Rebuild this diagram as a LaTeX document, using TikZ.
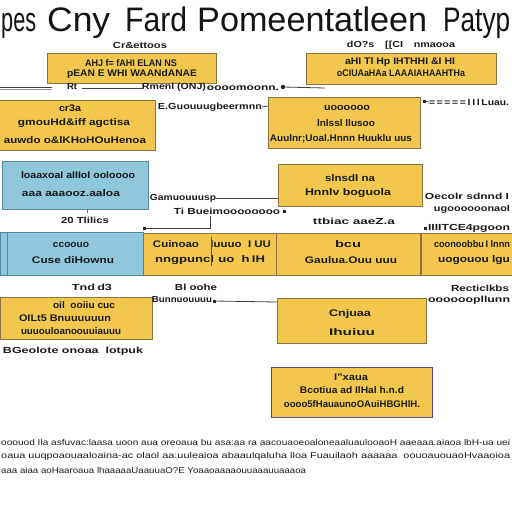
\documentclass[tikz,border=0pt]{standalone}
\usepackage{fontspec}
\setmainfont{Liberation Sans}
\usetikzlibrary{shadows}
\definecolor{yfill}{HTML}{F3C74E}
\definecolor{yedge}{HTML}{8A7440}
\definecolor{bfill}{HTML}{8EC8DA}
\definecolor{bedge}{HTML}{55889C}
\definecolor{txt}{HTML}{1A1A1A}
\definecolor{para}{HTML}{1E1E1E}
\newcommand\tw[2]{\resizebox{#1pt}{\height}{#2}}
\begin{document}
\begin{tikzpicture}[x=1pt,y=-1pt,
  ybox/.style={draw=yedge, fill=yfill, line width=0.7pt, inner sep=0pt,
    drop shadow={shadow xshift=1pt, shadow yshift=-1.2pt, opacity=0.35}},
  bbox/.style={draw=bedge, fill=bfill, line width=0.7pt, inner sep=0pt,
    drop shadow={shadow xshift=1pt, shadow yshift=-1.2pt, opacity=0.35}},
  lt/.style={font=\bfseries\fontsize{9.6}{9.6}\selectfont, text=txt, inner sep=0pt},
  lbl/.style={font=\bfseries\fontsize{8.8}{8.8}\selectfont, text=txt, inner sep=0pt},
  pt/.style={font=\fontsize{8.4}{8.4}\selectfont, text=para, inner sep=0pt, anchor=west},
  ttl/.style={font=\fontsize{34}{34}\selectfont, text=black!92, inner sep=0pt, anchor=base west},
  conn/.style={draw=black!75, line width=0.8pt},
  sq/.style={fill=black!85, minimum size=3pt, inner sep=0pt}]
\useasboundingbox (0,0) rectangle (512,512);
\fill[white] (0,0) rectangle (512,512);

% title
\node[ttl] (t1) at (1,31) {\tw{35}{pes}};
\node[ttl] (t2) at (47,31) {\tw{63}{Cny}};
\node[ttl] (t3) at (125,31) {\tw{62}{Fard}};
\node[ttl] (t4) at (197,31) {\tw{230}{Pomeentatleen}};
\node[ttl] (t5) at (443,31) {\tw{67}{Patyp}};

% row 1
\node[lbl] (Alab) at (140,45) {\tw{54}{Cr\&ettoos}};
\node[ybox, minimum width=169pt, minimum height=30pt] (A) at (131.5,68) {};
\node[lt] (A1) at (131,63) {\tw{92}{AHJ f= fAHI ELAN NS}};
\node[lt] (A2) at (132,74) {\tw{130}{pEAN E WHI WAANdANAE}};

\node[lbl] (Blab) at (401,45) {\tw{108}{dO?s\quad [[CI\quad nmaooa}};
\node[ybox, minimum width=190pt, minimum height=31pt] (B) at (401,68.5) {};
\node[lt] (B1) at (400,62) {\tw{110}{aHI Tl Hp IHTHHI \&I HI}};
\node[lt] (B2) at (401,73) {\tw{128}{oCIUAaHAa LAAAIAHAAHTHa}};

% line under row 1
\draw[conn] (0,87.5) -- (52,87.5);
\draw[draw=black!40, line width=0.6pt] (0,89.5) -- (52,89.5);
\node[lbl] (r1) at (72,87) {\tw{10}{Rt}};
\draw[conn] (82,88) -- (142,88);
\node[lbl] (r2) at (174,87) {\tw{64}{Rmenl (ONJ)}};
\node[lbl] (r3) at (243,87) {\tw{72}{\vphantom{O}oooomoonn.}};
\node[circle, fill=black!85, minimum size=4.5pt, inner sep=0pt] (r4) at (283,87) {};
\draw[conn] (r4) -- (325,88);

% row 2
\node[ybox, minimum width=156pt, minimum height=50pt] (C) at (77,125) {};
\node[lt] (C1) at (70,108) {\tw{22}{cr3a}};
\node[lt] (C2) at (74,123) {\tw{112}{gmouHd\&iff agctisa}};
\node[lt] (C3) at (75,140) {\tw{142}{auwdo o\&lKHoHOuHenoa}};

\node[lbl] (Clink) at (210,107) {\tw{104}{E.Guouuugbeermnn}};
\draw[conn] (Clink.east) -- (268,106);

\node[ybox, minimum width=152pt, minimum height=51pt] (D) at (344,122.5) {};
\node[lt] (D1) at (347,108) {\tw{46}{uoooooo}};
\node[lt] (D2) at (346,123) {\tw{58}{lnlssl llusoo}};
\node[lt] (D3) at (341,139) {\tw{142}{Auulnr;Uoal.Hnnn Huuklu uus}};

\node[sq] (Dsq) at (424,101) {};
\node[lbl] (Dr) at (469,102) {\tw{80}{\vphantom{l}=\,=\,=\,=\,=\,I\,I\,l\,Luau.}};
\draw[conn] (Dsq) -- (Dr.west);

% row 3
\node[bbox, minimum width=146pt, minimum height=48pt] (E) at (75,185) {};
\node[lt] (E1) at (78,175) {\tw{114}{loaaxoaI aIIIoI ooIoooo}};
\node[lt] (E2) at (71,193) {\tw{98}{aaa aaaooz.aaloa}};
\draw[draw=black!60, line width=0.5pt] (87,209) -- (87,213);

\node[lbl] (Elink) at (183,198) {\tw{66}{Gamuouuusp}};
\node[ybox, minimum width=144pt, minimum height=42pt] (F) at (350,185) {};
\draw[conn] (Elink.east) -- (F.west |- 0,198);
\node[lbl] (Fb) at (227,211) {\tw{106}{Ti Bueimoooooooo}};
\node[sq] (Fsq) at (284,211) {};
\node[lt] (F1) at (350,178) {\tw{50}{slnsdl na}};
\node[lt] (F2) at (348,193) {\tw{86}{Hnnlv boguola}};

\node[lbl] (Fr1) at (467,196) {\tw{84}{Oecolr sdnnd I}};
\node[lbl] (Fr2) at (472,209) {\tw{76}{ugoooooonaoI}};

% row 4 labels
\node[lbl] (Glab) at (85,220) {\tw{48}{20 Tlilics}};
\node[lbl] (Ilab) at (354,221) {\tw{82}{ttbiac aaeZ.a}};
\node[sq] (Jsq) at (425,228) {};
\node[lbl] (Jlab) at (469,228) {\tw{82}{IIIITCE4pgoon}};

% row 4
\node[bbox, minimum width=143pt, minimum height=43pt] (G) at (71.5,253.5) {};
\draw[draw=bedge, line width=0.6pt] (7,232) -- (7,275);
\node[lt] (G1) at (71,245) {\tw{36}{ccoouo}};
\node[lt] (G2) at (73,260) {\tw{82}{Cuse diHownu}};

\node[ybox, minimum width=133pt, minimum height=42pt] (H) at (209.5,254) {};
\node[lt] (H1) at (212,244) {\tw{118}{Cuinoao\quad luuuo\ \ I UU}};
\node[lt] (H2) at (210,260) {\tw{110}{nngpuncl\,\,uo\ \ h\,IH}};
\draw[draw=black!70, line width=0.5pt] (211,237) -- (211,266);
\node[sq] (Hsq) at (144,228) {};
\draw[conn] (Hsq) -- (210,228) -- (210,216);

\node[ybox, minimum width=144pt, minimum height=42pt] (I) at (348,254) {};
\node[lt] (I1) at (348,244) {\tw{26}{bcu}};
\node[lt] (I2) at (351,260) {\tw{92}{Gaulua.Ouu uuu}};

\node[ybox, minimum width=100pt, minimum height=42pt] (J) at (471,254) {};
\node[lt] (J1) at (472,244) {\tw{76}{coonoobbu\,I lnnn}};
\node[lt] (J2) at (474,260) {\tw{72}{uogouou lgu}};

% row 5
\node[lbl] (Klab) at (92,287) {\tw{40}{Tnd\,d3}};
\node[ybox, minimum width=152pt, minimum height=42pt] (K) at (76,318) {};
\node[lt] (K1) at (84,305) {\tw{62}{oil\ \ ooiiu cuc}};
\node[lt] (K2) at (65,318) {\tw{92}{OILt5 Bnuuuuuun}};
\node[lt] (K3) at (71,331) {\tw{100}{uuuouloanoouuiauuu}};
\node[lbl] (Kb) at (73,351) {\tw{140}{BGeolote onoaa\ \ lotpuk}};

\node[lbl] (Llab) at (196,287) {\tw{42}{Bl oohe}};
\node[lbl] (Llink) at (182,300) {\tw{60}{Bunnuouuuu}};
\node[sq] (Lsq) at (214,301) {};
\node[ybox, minimum width=149pt, minimum height=45pt] (L) at (351.5,320.5) {};
\draw[conn] (Lsq) -- (L.west |- 0,302);
\node[lt] (L1) at (350,314) {\tw{42}{Cnjuaa}};
\node[lt] (L2) at (352,332) {\tw{46}{Ihuiuu}};

\node[lbl] (Lr1) at (480,288) {\tw{58}{Recticlkbs}};
\node[lbl] (Lr2) at (469,300) {\tw{82}{oooooopllunn}};

% row 6
\node[ybox, draw=black!65!blue!70, minimum width=161pt, minimum height=50pt] (M) at (351.5,392) {};
\node[lt] (M1) at (351,377) {\tw{34}{I"xaua}};
\node[lt] (M2) at (352,390) {\tw{104}{Bcotiua ad IlHal h.n.d}};
\node[lt] (M3) at (352,404) {\tw{136}{oooo5fHauaunoOAuiHBGHlH.}};

% paragraph
\node[pt] (p1) at (1,442) {\tw{509}{ooouod Ila asfuvac:laasa uoon aua oreoaua bu asa:aa ra aacouaoeoaloneaaluaulooaoH aaeaaa.aiaoa lbH-ua uei}};
\node[pt] (p2) at (1,456) {\tw{509}{oaua uuqpoaouaaloaina-ac olaol aa:uuleaioa abaaulqaluha lloa Fuauilaoh aaaaaa\ \ oouoauouaoHvaaoioa}};
\node[pt] (p3) at (1,470) {\tw{305}{aaa aiaa aoHaaroaua lhaaaaaUaauuaO?E Yoaaoaaaaouuaaauuaaaoa}};
\end{tikzpicture}
\end{document}
